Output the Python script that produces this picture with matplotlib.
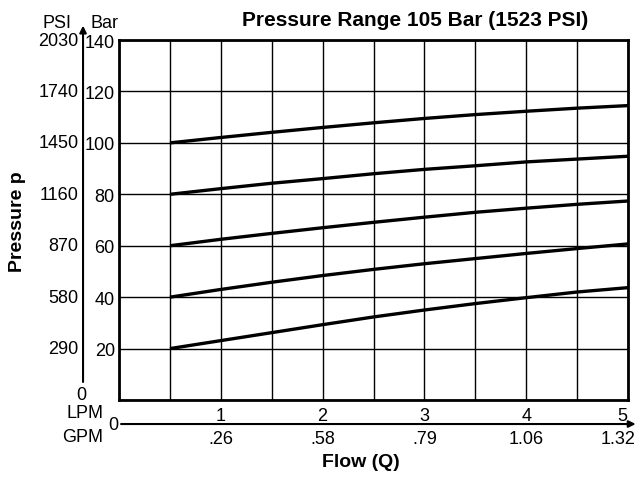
import numpy as np
import matplotlib
matplotlib.use("Agg")
from matplotlib import pyplot as plt
from matplotlib import transforms

plt.rcParams['font.family'] = ['Liberation Sans', 'DejaVu Sans']

# flow in LPM, pressure in bar
flow_lpm = [0.5, 1.0, 1.5, 2.0, 2.5, 3.0, 3.5, 4.0, 4.5, 5.0]
curve_100 = [100.0, 102.1, 104.1, 106.0, 107.8, 109.5, 111.0, 112.3, 113.5, 114.5]
curve_80 = [80.0, 82.2, 84.3, 86.1, 88.0, 89.7, 91.1, 92.6, 93.7, 94.8]
curve_60 = [60.0, 62.5, 64.8, 67.0, 69.1, 71.1, 73.0, 74.6, 76.1, 77.4]
curve_40 = [40.0, 43.0, 45.8, 48.4, 50.8, 53.0, 55.0, 57.0, 58.9, 60.7]
curve_20 = [20.0, 23.1, 26.2, 29.3, 32.3, 35.0, 37.5, 39.8, 42.0, 43.7]

bar_ticks = [20, 40, 60, 80, 100, 120, 140]
psi_labels = ["290", "580", "870", "1160", "1450", "1740", "2030"]
lpm_ticks = [1, 2, 3, 4, 5]
gpm_labels = [".26", ".58", ".79", "1.06", "1.32"]

fig = plt.figure(figsize=(6.42, 4.81), dpi=100)
ax = fig.add_axes([0.1854, 0.1663, 0.7928, 0.7484])

for c in [curve_100, curve_80, curve_60, curve_40, curve_20]:
    ax.plot(flow_lpm, c, color="black", lw=2.4, solid_capstyle="butt")

ax.set_xlim(0, 5)
ax.set_ylim(0, 140)

# grid every 0.5 LPM and 20 bar, labels only on whole LPM
ax.set_xticks(np.arange(0, 5.01, 0.5))
ax.set_xticklabels([])
ax.set_yticks([0] + bar_ticks)
ax.set_yticklabels([""] + [str(b) for b in bar_ticks])
ax.tick_params(length=0, labelsize=13, pad=3)
ax.grid(True, color="black", lw=1.0)
for s in ax.spines.values():
    s.set_linewidth(2.0)

# PSI scale
trans_y = transforms.blended_transform_factory(ax.transAxes, ax.transData)
for b, lab in zip(bar_ticks, psi_labels):
    ax.text(-0.080, b, lab, transform=trans_y, ha="right", va="center", fontsize=13)

# LPM and GPM scale
trans_x = transforms.blended_transform_factory(ax.transData, ax.transAxes)
for q, lab in zip(lpm_ticks, gpm_labels):
    shift = -0.06 if q == 5 else 0
    ax.text(q + shift, -0.042, str(q), transform=trans_x, ha="center", va="center", fontsize=13)
    shift = -0.10 if q == 5 else 0
    ax.text(q + shift, -0.108, lab, transform=trans_x, ha="center", va="center", fontsize=13)

# arrows
ax.annotate("", xy=(-0.0707, 1.040), xytext=(-0.0707, 0.05), xycoords="axes fraction",
            arrowprops=dict(arrowstyle="-|>", lw=1.5, color="black", shrinkA=0, shrinkB=0,
                            mutation_scale=10))
ax.annotate("", xy=(1.015, -0.0667), xytext=(0.004, -0.0667), xycoords="axes fraction",
            arrowprops=dict(arrowstyle="-|>", lw=1.5, color="black", shrinkA=0, shrinkB=0,
                            mutation_scale=10))

ax.text(-0.1218, 1.050, "PSI", transform=ax.transAxes, ha="center", va="center", fontsize=13)
ax.text(-0.0295, 1.050, "Bar", transform=ax.transAxes, ha="center", va="center", fontsize=13)
ax.text(-0.0747, 0.015, "0", transform=ax.transAxes, ha="center", va="center", fontsize=13)
ax.text(-0.0314, -0.036, "LPM", transform=ax.transAxes, ha="right", va="center", fontsize=13)
ax.text(-0.0314, -0.100, "GPM", transform=ax.transAxes, ha="right", va="center", fontsize=13)
ax.text(-0.0118, -0.069, "0", transform=ax.transAxes, ha="center", va="center", fontsize=13)

fig.text(0.647, 0.958, "Pressure Range 105 Bar (1523 PSI)", ha="center", va="center",
         fontsize=15, fontweight="bold")
fig.text(0.562, 0.038, "Flow (Q)", ha="center", va="center", fontsize=14, fontweight="bold")
fig.text(0.027, 0.54, "Pressure p", ha="center", va="center", rotation=90,
         fontsize=14, fontweight="bold")

fig.savefig("out.png", dpi=100)
